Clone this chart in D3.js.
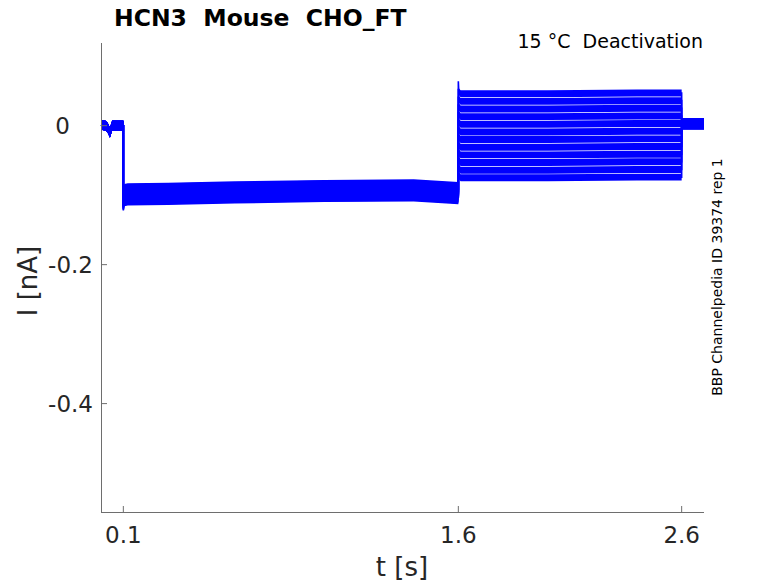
<!DOCTYPE html>
<html>
<head>
<meta charset="utf-8">
<script src="https://cdn.jsdelivr.net/npm/d3@7"></script>
<style>
  body { margin: 0; background: #fff; }
  text { font-family: "DejaVu Sans", sans-serif; white-space: pre; }
</style>
</head>
<body>
<svg id="chart" width="778" height="583"></svg>
<script>
// sweep levels (nA), one entry per sweep
const tailLevels = [0.046, 0.035, 0.024, 0.013, 0.002, -0.009, -0.020, -0.031, -0.042, -0.053, -0.064, -0.075];
const stepLevels = [-0.088, -0.089, -0.091, -0.092, -0.093, -0.094, -0.095, -0.096, -0.097, -0.098, -0.099, -0.100];

// common shape of each phase: times (s) and offsets (nA)
const holdTimes = [0, 0.02, 0.03, 0.04, 0.05, 0.1];
const holdShape = [0.001, 0.0, -0.003, -0.010, 0.0, 0.0];
const stepTimes = [0.1, 0.104, 0.12, 0.3, 0.6, 1.0, 1.4, 1.6];
const stepShape = [-0.022, -0.006, -0.005, -0.004, -0.002, 0.000, 0.001, -0.003];
const tailTimes = [1.6, 1.602, 1.61, 2.0, 2.4, 2.6];
const tailShape = [0.018, 0.003, 0.000, 0.000, 0.001, 0.001];
const endTimes = [2.6, 2.7];
const endShape = [0.003, 0.003];

// noise half-width per phase (nA)
const noise = {hold: 0.007, step: 0.010, tail: 0.005, end: 0.008};

const xTicks = [0.1, 1.6, 2.6];
const yTicks = [0, -0.2, -0.4];

const svg = d3.select("#chart");
const x = d3.scaleLinear().domain([0, 2.7]).range([101, 704]);
const y = d3.scaleLinear().domain([-0.556, 0.119]).range([512, 43]);
const blue = "#0000ff";
const axisColor = "#6e6e6e";
const textColor = "#262626";

function phase(times, shape, level) {
  return times.map((t, i) => ({t: t, v: level + shape[i]}));
}

const sweeps = tailLevels.map((tl, i) => ({
  hold: phase(holdTimes, holdShape, 0),
  step: phase(stepTimes, stepShape, stepLevels[i]),
  tail: phase(tailTimes, tailShape, tl),
  end: phase(endTimes, endShape, 0)
}));

const band = n => d3.area().x(d => x(d.t)).y0(d => y(d.v - n)).y1(d => y(d.v + n));
const line = d3.line().x(d => x(d.t)).y(d => y(d.v));

const plot = svg.append("g");
sweeps.forEach(s => {
  ["hold", "step", "tail", "end"].forEach(k => {
    // first point of step/tail is the onset transient, keep it for the line only
    const pts = (k === "step" || k === "tail") ? s[k].slice(1) : s[k];
    plot.append("path").attr("d", band(noise[k])(pts)).attr("fill", blue);
  });
  const all = s.hold.concat(s.step, s.tail, s.end);
  plot.append("path").attr("d", line(all)).attr("fill", "none")
    .attr("stroke", blue).attr("stroke-width", 1.6);
});

// axes: left and bottom lines, ticks pointing inward
const ax = svg.append("g").attr("stroke", axisColor).attr("stroke-width", 1);
ax.append("line").attr("x1", 101.5).attr("x2", 101.5).attr("y1", 43).attr("y2", 512.5);
ax.append("line").attr("x1", 101).attr("x2", 704).attr("y1", 512.5).attr("y2", 512.5);
xTicks.forEach(t => {
  ax.append("line").attr("x1", x(t)).attr("x2", x(t)).attr("y1", 512).attr("y2", 506);
});
yTicks.forEach(t => {
  ax.append("line").attr("x1", 101).attr("x2", 107).attr("y1", y(t)).attr("y2", y(t));
});

svg.selectAll(".xt").data(xTicks).enter().append("text")
  .attr("x", d => x(d)).attr("y", 543).attr("text-anchor", "middle")
  .attr("font-size", 23).attr("fill", textColor).text(d => d);
svg.selectAll(".yt").data(yTicks).enter().append("text")
  .attr("x", d => d === 0 ? 70 : 93).attr("y", d => y(d) + 8).attr("text-anchor", "end")
  .attr("font-size", 23).attr("fill", textColor).text(d => d);

svg.append("text").attr("x", 402).attr("y", 576).attr("text-anchor", "middle")
  .attr("font-size", 26).attr("fill", textColor).text("t [s]");
svg.append("text").attr("transform", "translate(37,281) rotate(-90)").attr("text-anchor", "middle")
  .attr("font-size", 26).attr("fill", textColor).text("I [nA]");

svg.append("text").attr("x", 114).attr("y", 26).attr("font-size", 23.5).attr("font-weight", "bold")
  .attr("fill", "#000").text("HCN3  Mouse  CHO_FT");
svg.append("text").attr("x", 703).attr("y", 48).attr("text-anchor", "end").attr("font-size", 19)
  .attr("fill", "#000").text("15 °C  Deactivation");
svg.append("text").attr("transform", "translate(722,277) rotate(-90)").attr("text-anchor", "middle")
  .attr("font-size", 14).attr("fill", "#000").text("BBP Channelpedia ID 39374 rep 1");
</script>
</body>
</html>
